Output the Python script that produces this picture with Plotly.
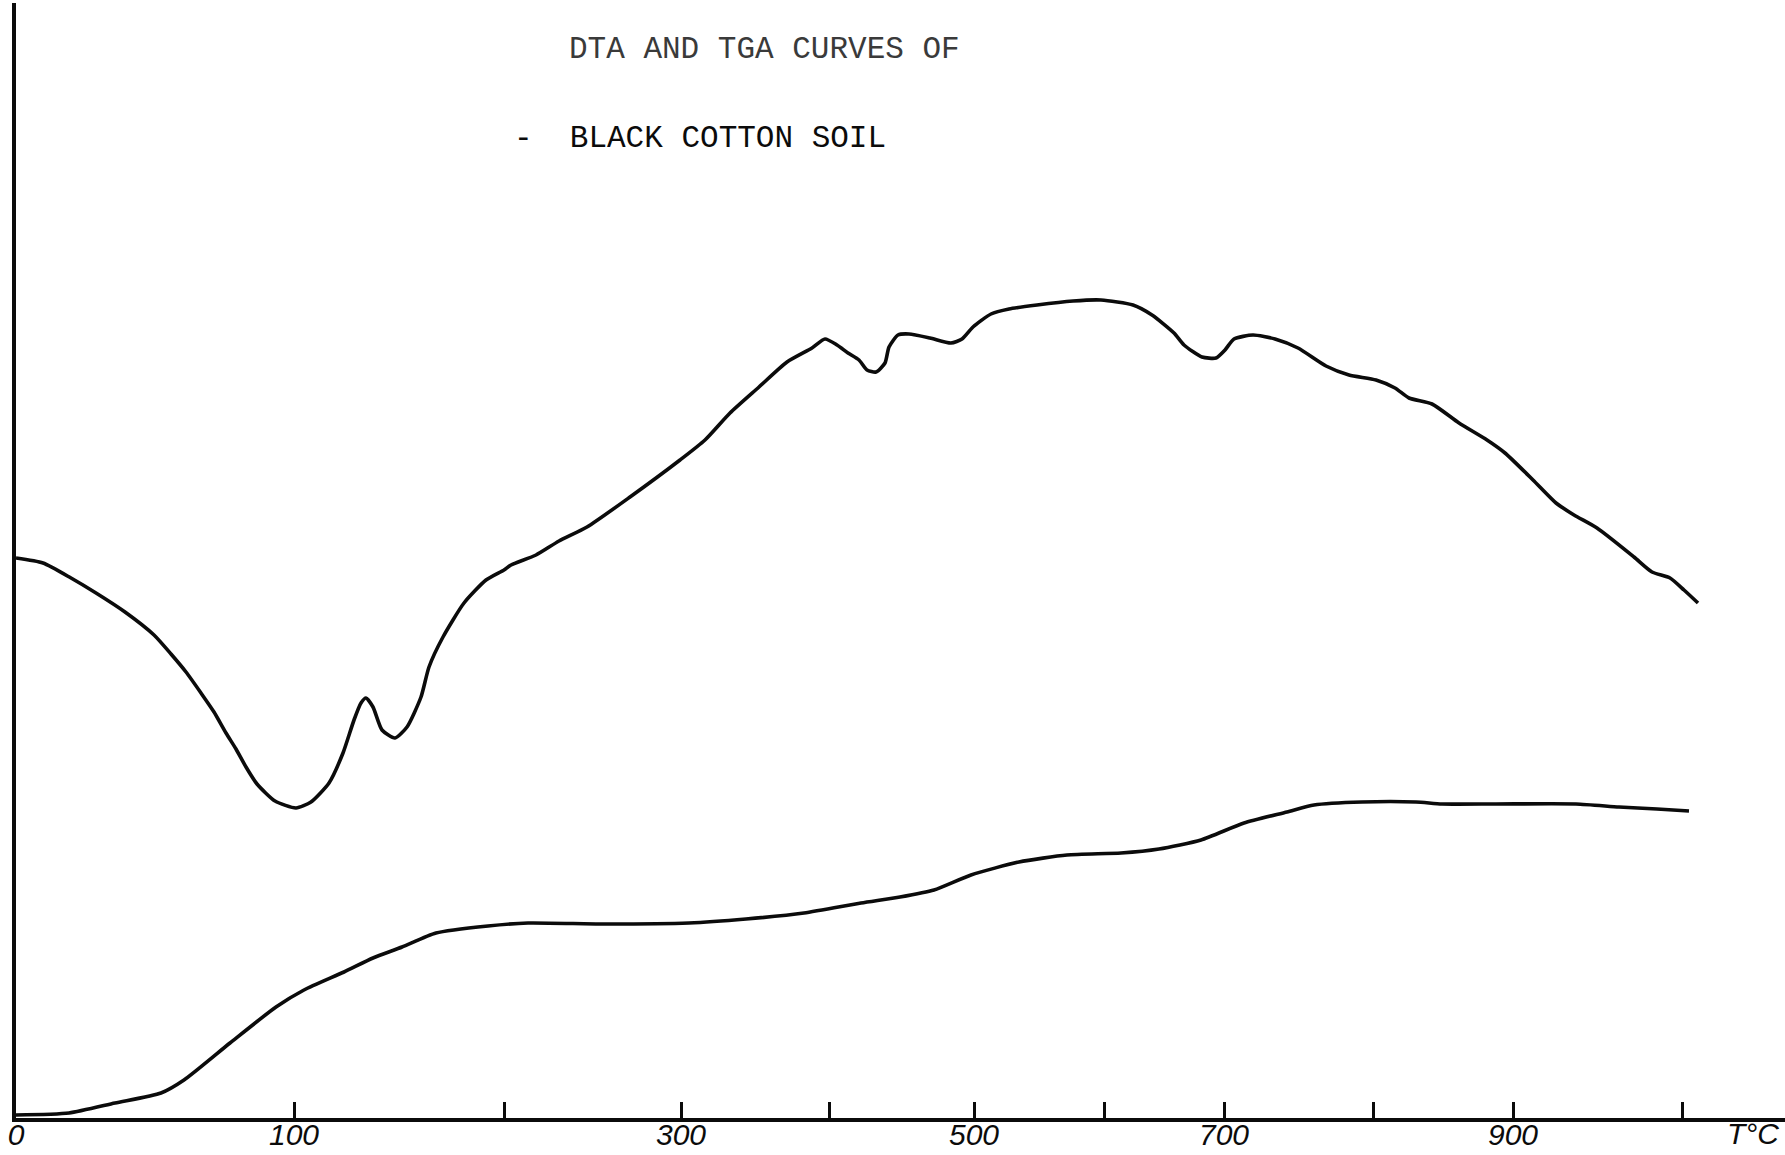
import plotly.graph_objects as go

# Recorder chart of a thermal analysis run: distance along the chart (mm)
# and pen deflection (mm) for the DTA and TGA traces.
dta_mm = [0.0, 2.7, 5.5, 8.0, 10.9, 13.8, 15.5, 17.0, 18.5, 19.8, 21.0, 22.0, 23.0,
          24.1, 25.9, 28.0, 29.5, 31.3, 32.7, 33.8, 34.5, 35.0, 35.7, 36.6, 37.9,
          39.1, 40.5, 41.3, 42.7, 44.8, 47.0, 48.8, 49.5, 52.0, 54.3, 57.1, 61.4,
          66.4, 68.9, 71.4, 74.3, 77.1, 79.6, 80.9, 82.1, 83.2, 84.3, 85.1, 86.0,
          86.9, 87.3, 88.2, 89.3, 91.4, 93.5, 94.6, 95.7, 97.5, 99.3, 102.1, 105.7,
          108.5, 111.7, 113.6, 115.8, 116.8, 118.6, 120.0, 120.9, 121.8, 123.7,
          125.9, 128.2, 131.0, 133.3, 136.0, 137.9, 139.3, 141.6, 144.3, 147.1,
          148.9, 151.7, 154.0, 155.8, 158.1, 161.8, 163.6, 165.4, 166.8, 168.2]
dta_defl = [56.0, 55.5, 54.0, 52.5, 50.6, 48.3, 46.4, 44.6, 42.5, 40.6, 38.5, 36.9,
            35.1, 33.4, 31.7, 31.0, 31.6, 33.5, 36.5, 39.8, 41.5, 42.0, 41.1, 38.8,
            38.0, 39.1, 42.1, 45.1, 48.1, 51.5, 53.8, 54.8, 55.3, 56.3, 57.7, 59.1,
            62.1, 65.8, 67.8, 70.5, 73.1, 75.6, 77.0, 77.9, 77.3, 76.5, 75.8, 74.8,
            74.6, 75.5, 77.1, 78.3, 78.4, 78.0, 77.5, 77.9, 79.1, 80.4, 80.9, 81.3,
            81.7, 81.8, 81.3, 80.3, 78.5, 77.3, 76.1, 76.0, 76.8, 77.9, 78.3, 77.9,
            77.0, 75.2, 74.3, 73.8, 73.0, 72.0, 71.4, 69.5, 67.8, 66.5, 63.8, 61.5,
            60.3, 59.0, 56.1, 54.6, 54.0, 52.8, 51.5]

tga_mm = [0.0, 5.3, 9.9, 14.5, 16.8, 21.4, 26.0, 28.8, 32.8, 35.7, 38.6, 42.0, 47.2,
          51.2, 58.7, 67.3, 73.0, 78.8, 84.5, 88.4, 91.8, 95.5, 100.3, 105.1, 110.5,
          114.3, 118.5, 122.8, 127.1, 129.8, 134.6, 140.0, 142.6, 148.0, 156.0,
          160.3, 164.1, 167.3]
tga_defl = [0.3, 0.5, 1.5, 2.5, 3.8, 7.5, 11.1, 12.8, 14.6, 16.0, 17.1, 18.5, 19.2,
            19.5, 19.4, 19.5, 19.9, 20.5, 21.5, 22.1, 22.8, 24.3, 25.6, 26.3, 26.5,
            26.9, 27.8, 29.5, 30.6, 31.3, 31.6, 31.6, 31.4, 31.4, 31.4, 31.1, 30.9,
            30.7]

# Temperature marks recorded along the chart (°C) and where they fall (mm)
temp_marks = [0, 100, 200, 300, 400, 500, 600, 700, 800, 900, 1000]
temp_mark_mm = [0.0, 27.8, 48.8, 66.5, 81.3, 95.8, 108.8, 120.8, 135.7, 149.7, 166.6]
labelled_marks = [0, 100, 300, 500, 700, 900]
tick_text = [str(t) if t in labelled_marks else "" for t in temp_marks]

title_lines = ["DTA AND TGA CURVES OF", "-  BLACK COTTON SOIL"]
unit_label = "T°C"

INK = "#0b0b0b"
HAND = "Liberation Sans Narrow, Liberation Sans, Arial"
MONO = "Liberation Mono, Courier New, DejaVu Sans Mono, monospace"

fig = go.Figure()
fig.add_trace(go.Scatter(
    x=dta_mm, y=dta_defl, mode="lines", name="DTA",
    line=dict(color=INK, width=3.6, shape="spline", smoothing=0.6),
    hoverinfo="skip",
))
fig.add_trace(go.Scatter(
    x=tga_mm, y=tga_defl, mode="lines", name="TGA",
    line=dict(color=INK, width=3.6, shape="spline", smoothing=0.6),
    hoverinfo="skip",
))

fig.update_xaxes(
    range=[0, 176.9], automargin=False,
    showline=True, linecolor=INK, linewidth=4,
    showgrid=False, zeroline=False,
    tickmode="array", tickvals=temp_mark_mm, ticktext=tick_text,
    ticks="inside", ticklen=16, tickwidth=2.5, tickcolor=INK,
    tickfont=dict(family=HAND, size=30, color=INK, style="italic"),
    ticklabelstandoff=-13,
    fixedrange=True,
)
fig.update_yaxes(
    range=[0, 111.5], automargin=False,
    showline=True, linecolor=INK, linewidth=4,
    showgrid=False, zeroline=False, showticklabels=False, ticks="",
    fixedrange=True,
)

fig.add_annotation(x=55.1, y=106.9, xref="x", yref="y", text=title_lines[0],
                   showarrow=False, xanchor="left", yanchor="middle",
                   font=dict(family=MONO, size=31, color="#3a3a3a"))
fig.add_annotation(x=49.56, y=98.0, xref="x", yref="y", text=title_lines[1],
                   showarrow=False, xanchor="left", yanchor="middle",
                   font=dict(family=MONO, size=31, color=INK))
fig.add_annotation(x=0.982, y=-0.0143, xref="paper", yref="paper", text=unit_label,
                   showarrow=False, xanchor="center", yanchor="middle",
                   font=dict(family=HAND, size=30, color=INK, style="italic"))

fig.update_layout(
    width=1785, height=1155,
    margin=dict(l=16, r=0, t=3, b=37),
    paper_bgcolor="white", plot_bgcolor="white",
    showlegend=False,
)

fig.write_html("out.html")
